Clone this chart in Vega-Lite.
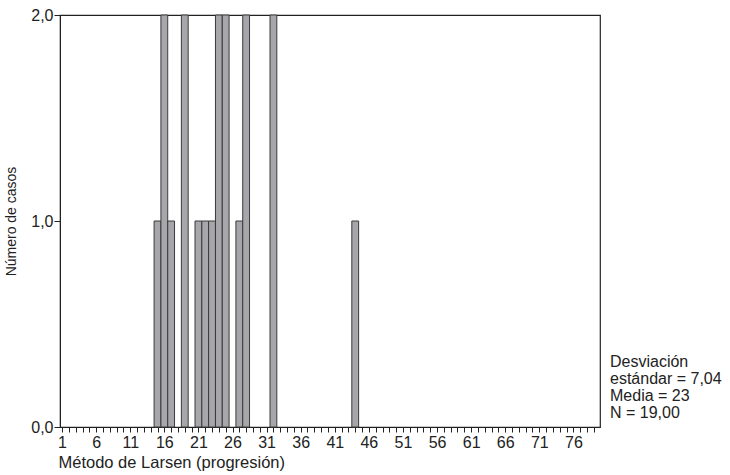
{
  "$schema": "https://vega.github.io/schema/vega-lite/v6.json",
  "width": 540,
  "height": 412,
  "autosize": {"type": "none"},
  "padding": {"left": 60, "top": 15, "right": 130, "bottom": 48},
  "background": "white",
  "config": {
    "font": "Liberation Sans",
    "view": {"stroke": "#222", "strokeWidth": 1.2},
    "axis": {"grid": false, "domainColor": "#222", "tickColor": "#222", "labelColor": "#222", "titleColor": "#222", "labelFontSize": 16, "titleFontSize": 16.5, "titleFontWeight": "normal", "labelFont": "Liberation Sans", "titleFont": "Liberation Sans"}
  },
  "layer": [
    {
      "data": {
        "values": [
          {"valor": 15, "casos": 1},
          {"valor": 16, "casos": 2},
          {"valor": 17, "casos": 1},
          {"valor": 19, "casos": 2},
          {"valor": 21, "casos": 1},
          {"valor": 22, "casos": 1},
          {"valor": 23, "casos": 1},
          {"valor": 24, "casos": 2},
          {"valor": 25, "casos": 2},
          {"valor": 27, "casos": 1},
          {"valor": 28, "casos": 2},
          {"valor": 32, "casos": 2},
          {"valor": 44, "casos": 1}
        ]
      },
      "transform": [
        {"calculate": "datum.valor - 0.5", "as": "inicio"},
        {"calculate": "datum.valor + 0.5", "as": "fin"}
      ],
      "mark": {"type": "bar", "fill": "#a7a7ab", "stroke": "#3a3a3a", "strokeWidth": 1},
      "encoding": {
        "x": {
          "field": "inicio",
          "type": "quantitative",
          "scale": {"domain": [0.7, 79.9], "nice": false, "zero": false},
          "axis": {
            "title": "Método de Larsen (progresión)",
            "titleAnchor": "start",
            "titleX": -2,
            "titlePadding": 4,
            "values": [1,2,3,4,5,6,7,8,9,10,11,12,13,14,15,16,17,18,19,20,21,22,23,24,25,26,27,28,29,30,31,32,33,34,35,36,37,38,39,40,41,42,43,44,45,46,47,48,49,50,51,52,53,54,55,56,57,58,59,60,61,62,63,64,65,66,67,68,69,70,71,72,73,74,75,76,77,78,79],
            "format": "d",
            "labelExpr": "(datum.value - 1) % 5 == 0 ? datum.label : ''",
            "labelOverlap": false,
            "labelFlush": false,
            "tickSize": 5,
            "labelPadding": 2
          }
        },
        "x2": {"field": "fin"},
        "y": {
          "field": "casos",
          "type": "quantitative",
          "scale": {"domain": [0, 2], "nice": false},
          "axis": {
            "title": "Número de casos",
            "titleFontSize": 14,
            "values": [0, 1, 2],
            "labelExpr": "replace(format(datum.value, '.1f'), '.', ',')",
            "tickSize": 6,
            "labelPadding": 1,
            "titlePadding": 12
          }
        },
        "y2": {"datum": 0}
      }
    },
    {
      "data": {"values": [{"texto": "Desviación\nestándar = 7,04\nMedia = 23\nN = 19,00"}]},
      "mark": {"type": "text", "align": "left", "baseline": "top", "fontSize": 16, "lineHeight": 17, "dx": 10, "color": "#222", "font": "Liberation Sans", "lineBreak": "\n"},
      "encoding": {
        "x": {
          "datum": 79.9,
          "type": "quantitative",
          "axis": {
            "title": "Método de Larsen (progresión)",
            "titleAnchor": "start",
            "titleX": -2,
            "titlePadding": 4,
            "values": [1,2,3,4,5,6,7,8,9,10,11,12,13,14,15,16,17,18,19,20,21,22,23,24,25,26,27,28,29,30,31,32,33,34,35,36,37,38,39,40,41,42,43,44,45,46,47,48,49,50,51,52,53,54,55,56,57,58,59,60,61,62,63,64,65,66,67,68,69,70,71,72,73,74,75,76,77,78,79],
            "format": "d",
            "labelExpr": "(datum.value - 1) % 5 == 0 ? datum.label : ''",
            "labelOverlap": false,
            "labelFlush": false,
            "tickSize": 5,
            "labelPadding": 2
          }
        },
        "y": {
          "datum": 0.355,
          "type": "quantitative",
          "axis": {
            "title": "Número de casos",
            "titleFontSize": 14,
            "values": [0, 1, 2],
            "labelExpr": "replace(format(datum.value, '.1f'), '.', ',')",
            "tickSize": 6,
            "labelPadding": 1,
            "titlePadding": 12
          }
        },
        "text": {"field": "texto"}
      }
    }
  ]
}
